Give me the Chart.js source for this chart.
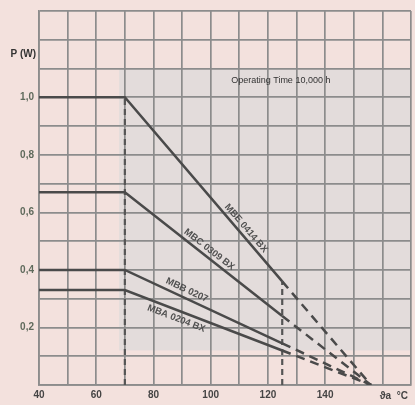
<!DOCTYPE html>
<html>
<head>
<meta charset="utf-8">
<script src="https://cdn.jsdelivr.net/npm/chart.js@4/dist/chart.umd.min.js"></script>
<style>
  body { margin: 0; background: #f3e1dd; }
  #chart { display: block; }
</style>
</head>
<body>
<canvas id="chart" width="415" height="405"></canvas>
<script>
// ambient temperature (°C) at the break points of each derating curve
const temps = [40, 70, 125, 156];

// permissible power P (W) per resistor type
const seriesNames = ["MBE 0414 BX", "MBC 0309 BX", "MBB 0207", "MBA 0204 BX"];
const mbe = [1.0, 1.0, 0.36, 0];
const mbc = [0.67, 0.67, 0.24, 0];
const mbb = [0.40, 0.40, 0.145, 0];
const mba = [0.33, 0.33, 0.12, 0];

// vertical dashed markers (°C) and how high they reach (W)
const markerTemps = [70, 125];
const markerTops = [1.0, 0.36];

// where the type labels sit along each curve (°C) and which side (px)
const labelTemps = [110.5, 98, 90.5, 89];
const labelSides = [7, 7, 8, -8];

const xTickLabels = [40, 60, 80, 100, 120, 140];
const yTickLabels = { 2: "0,2", 4: "0,4", 6: "0,6", 8: "0,8", 10: "1,0" };

const allSeries = [mbe, mbc, mbb, mba];
const lineColor = "#4a4a4a";
const gridColor = "#8c8c8c";

const curveSets = allSeries.map((vals, i) => ({
  label: seriesNames[i],
  data: temps.map((t, k) => ({ x: t, y: vals[k] })),
  borderColor: lineColor,
  borderWidth: 2.5,
  pointRadius: 0,
  tension: 0,
  segment: {
    borderDash: (ctx) => (ctx.p0DataIndex >= 2 ? [9, 6] : undefined),
  },
}));

const markerSets = markerTemps.map((t, i) => ({
  label: "marker " + t,
  data: [{ x: t, y: 0 }, { x: t, y: markerTops[i] }],
  borderColor: "#555",
  borderWidth: 2.2,
  borderDash: [6, 4],
  pointRadius: 0,
}));

const paperPlugin = {
  id: "paper",
  beforeDraw(chart) {
    const { ctx, scales } = chart;
    const x = scales.x, y = scales.y;
    ctx.save();
    ctx.fillStyle = "#f3e1dd";
    ctx.fillRect(0, 0, chart.width, chart.height);
    // greyish scan patch in the middle of the sheet
    ctx.fillStyle = "#e3dcdb";
    const l = x.getPixelForValue(68), r = x.getPixelForValue(170);
    const t = y.getPixelForValue(1.1), b = y.getPixelForValue(0.12);
    ctx.fillRect(l, t, r - l, b - t);
    ctx.restore();
  },
};

const textPlugin = {
  id: "texts",
  afterDatasetsDraw(chart) {
    const { ctx, scales } = chart;
    const x = scales.x, y = scales.y;
    ctx.save();
    ctx.fillStyle = "#505050";
    ctx.textAlign = "center";
    ctx.textBaseline = "middle";

    // type labels along the sloping part of each curve
    ctx.font = "bold 9.5px 'Liberation Sans', Arial, sans-serif";
    allSeries.forEach((vals, i) => {
      const x1 = x.getPixelForValue(temps[1]), y1 = y.getPixelForValue(vals[1]);
      const x2 = x.getPixelForValue(temps[3]), y2 = y.getPixelForValue(vals[3]);
      const ang = Math.atan2(y2 - y1, x2 - x1);
      const px = x.getPixelForValue(labelTemps[i]);
      const py = y1 + (px - x1) * Math.tan(ang);
      const off = labelSides[i];
      ctx.save();
      ctx.translate(px + Math.sin(ang) * off, py - Math.cos(ang) * off);
      ctx.rotate(ang);
      ctx.fillText(seriesNames[i], 0, 0);
      ctx.restore();
    });

    ctx.fillStyle = "#333";
    ctx.font = "9px 'Liberation Sans', Arial, sans-serif";
    ctx.fillText("Operating Time 10,000 h", x.getPixelForValue(124.5), y.getPixelForValue(1.06));

    ctx.font = "bold 10px 'Liberation Sans', Arial, sans-serif";
    ctx.textAlign = "right";
    ctx.fillText("P (W)", x.left - 3, y.getPixelForValue(1.15));

    ctx.textAlign = "center";
    ctx.fillStyle = "#444";
    ctx.fillText("ϑa  °C", x.getPixelForValue(164), y.bottom + 11);
    ctx.restore();
  },
};

new Chart(document.getElementById("chart"), {
  type: "line",
  data: { datasets: [...curveSets, ...markerSets] },
  options: {
    responsive: false,
    animation: false,
    events: [],
    layout: { padding: { top: 9, right: 0, left: 0, bottom: 0 } },
    plugins: {
      legend: { display: false },
      tooltip: { enabled: false },
    },
    scales: {
      x: {
        type: "linear",
        min: 40,
        max: 170,
        afterFit: (s) => { s.height = 20; },
        grid: { color: gridColor, lineWidth: 1.7, drawTicks: false },
        border: { color: gridColor, width: 1.7 },
        ticks: {
          stepSize: 10,
          autoSkip: false,
          maxRotation: 0,
          padding: 4,
          color: "#444",
          font: { size: 10, weight: "bold", family: "'Liberation Sans', Arial, sans-serif" },
          callback: (v) => (xTickLabels.includes(v) ? String(v) : ""),
        },
      },
      y: {
        type: "linear",
        min: 0,
        max: 1.3,
        afterFit: (s) => { s.width = 39; },
        grid: { color: gridColor, lineWidth: 1.7, drawTicks: false },
        border: { color: gridColor, width: 1.7 },
        ticks: {
          stepSize: 0.1,
          autoSkip: false,
          padding: 5,
          color: "#5f6a5c",
          font: { size: 10, weight: "bold", family: "'Liberation Sans', Arial, sans-serif" },
          callback: (v) => yTickLabels[Math.round(v * 10)] || "",
        },
      },
    },
  },
  plugins: [paperPlugin, textPlugin],
});
</script>
</body>
</html>
